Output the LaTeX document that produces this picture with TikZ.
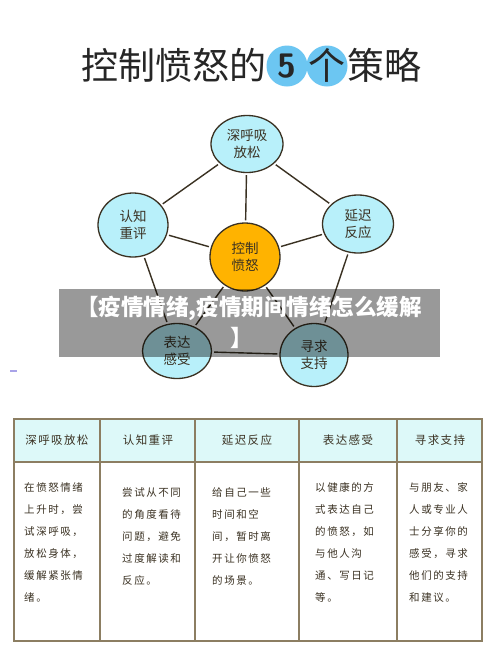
\documentclass[tikz,border=0pt]{standalone}
\usepackage{fontspec}
\usetikzlibrary{shapes.geometric}
\newfontfamily\cjk{Noto Sans CJK SC}
\newfontfamily\cjksp[LetterSpace=15]{Noto Sans CJK SC}
\newfontfamily\cjkhd[LetterSpace=12]{Noto Sans CJK SC}
\definecolor{ink}{HTML}{3A3122}
\definecolor{bubcyan}{HTML}{B8F0FA}
\definecolor{bubor}{HTML}{FFB300}
\definecolor{ttlblue}{HTML}{6CC6F2}
\definecolor{hdcyan}{HTML}{DDF9F9}
\definecolor{tbline}{HTML}{8C7E62}
\definecolor{lav}{HTML}{A9A3E8}
\begin{document}
\begin{tikzpicture}[x=1pt,y=-1pt,
  bub/.style={ellipse,draw=ink,line width=1.3pt,fill=bubcyan,inner sep=0pt,align=center,
    text=ink,font=\cjk\fontsize{13.5}{17.5}\selectfont},
  link/.style={draw=ink,line width=1.4pt,shorten >=2pt,shorten <=2pt},
  ttl/.style={inner sep=0pt,text=black!85,font=\cjk\fontsize{37}{40}\selectfont},
  hd/.style={inner sep=0pt,text=ink,font=\cjkhd\fontsize{11.5}{14}\selectfont},
  cell/.style={inner sep=0pt,anchor=north west,align=left,text=ink,font=\cjksp\fontsize{10.5}{22}\selectfont},
  tb/.style={draw=tbline,line width=1.1pt}]
\path[use as bounding box] (0,0) rectangle (500,646);
\fill[white] (0,0) rectangle (500,646);
% title
\node[ttl,anchor=east] (t1) at (267,65) {控制愤怒的};
\node[circle,fill=ttlblue,minimum size=41pt,inner sep=0pt,font=\sffamily\bfseries\fontsize{34}{34}\selectfont,text=black!85] (t5) at (287,66) {5};
\node[circle,fill=ttlblue,minimum size=41pt,inner sep=0pt] (t6c) at (327,66) {};
\node[ttl] (t6) at (327,65) {个};
\node[ttl,anchor=west] (t7) at (347,65) {策略};
% network
\node[bub,minimum width=72pt,minimum height=57pt] (top) at (247,144) {深呼吸\\放松};
\node[bub,minimum width=70pt,minimum height=64pt] (lf) at (133,225) {认知\\重评};
\node[bub,minimum width=71pt,minimum height=58pt] (rt) at (358,224) {延迟\\反应};
\node[bub,fill=bubor,minimum width=70pt,minimum height=68pt] (ctr) at (245,257) {控制\\愤怒};
\node[bub,minimum width=69pt,minimum height=55pt] (bl) at (177,351) {表达\\感受};
\node[bub,minimum width=68pt,minimum height=63pt] (br) at (314,355) {寻求\\支持};
\draw[link] (top) -- (lf);
\draw[link] (top) -- (rt);
\draw[link] (top) -- (ctr);
\draw[link] (lf) -- (ctr);
\draw[link] (rt) -- (ctr);
\draw[link] (lf) -- (bl);
\draw[link] (rt) -- (br);
\draw[link] (ctr) -- (bl);
\draw[link] (ctr) -- (br);
\draw[link] (bl) -- (br);
% banner
\fill[black,opacity=0.4] (59,289) rectangle (440,357);
\node[inner sep=0pt,text=white,font=\cjk\bfseries\fontsize{22.5}{30}\selectfont] (bn1) at (249,308) {【疫情情绪,疫情期间情绪怎么缓解};
\node[inner sep=0pt,text=white,font=\cjk\bfseries\fontsize{22.5}{30}\selectfont] (bn2) at (242,338) {】};
\draw[lav,line width=1.2pt] (10,371) -- (17,371);
% table
\fill[hdcyan] (14,419) rectangle (482,462);
\draw[tb] (14,419) rectangle (482,641);
\draw[tb] (14,462) -- (482,462);
\foreach \x in {100,195,299,397} \draw[tb] (\x,419) -- (\x,641);
\node[hd] (h1) at (57,440) {深呼吸放松};
\node[hd] (h2) at (148,440) {认知重评};
\node[hd] (h3) at (247,440) {延迟反应};
\node[hd] (h4) at (348,440) {表达感受};
\node[hd] (h5) at (440,440) {寻求支持};
\node[cell] (c1) at (24,482) {在愤怒情绪\\上升时，尝\\试深呼吸，\\放松身体，\\缓解紧张情\\绪。};
\node[cell] (c2) at (122,487) {尝试从不同\\的角度看待\\问题，避免\\过度解读和\\反应。};
\node[cell] (c3) at (212,487) {给自己一些\\时间和空\\间，暂时离\\开让你愤怒\\的场景。};
\node[cell] (c4) at (315,482) {以健康的方\\式表达自己\\的愤怒，如\\与他人沟\\通、写日记\\等。};
\node[cell] (c5) at (409,482) {与朋友、家\\人或专业人\\士分享你的\\感受，寻求\\他们的支持\\和建议。};
\end{tikzpicture}
\end{document}
